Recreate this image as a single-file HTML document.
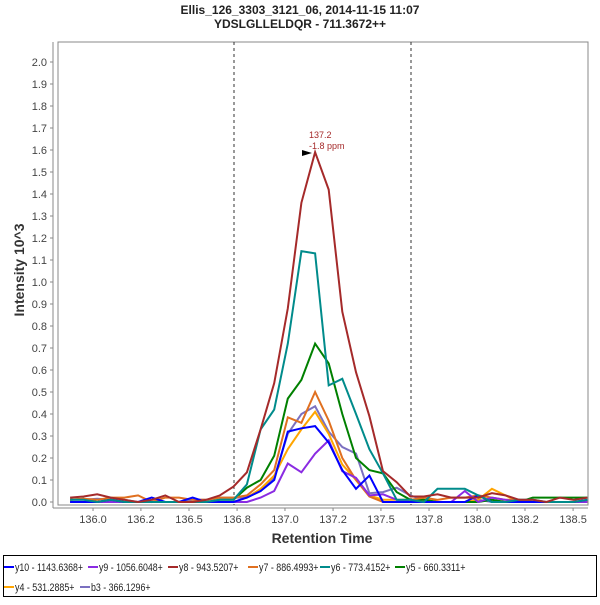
<!DOCTYPE html>
<html><head><meta charset="utf-8"><style>
body{margin:0;background:#fff;font-family:"Liberation Sans",sans-serif}
svg text{font-family:"Liberation Sans",sans-serif}
</style></head><body>
<svg id="chart" width="600" height="600" xmlns="http://www.w3.org/2000/svg">
<rect width="600" height="600" fill="#fff"/>
<text x="300" y="14" text-anchor="middle" font-size="12" font-weight="bold" fill="#222">Ellis_126_3303_3121_06, 2014-11-15 11:07</text>
<text x="300" y="28" text-anchor="middle" font-size="12" font-weight="bold" fill="#222">YDSLGLLELDQR - 711.3672++</text>
<rect x="58" y="42" width="530" height="463" fill="none" stroke="#888" stroke-width="1"/>
<line x1="53" y1="42" x2="53" y2="508" stroke="#888"/>
<line x1="53" y1="508" x2="588" y2="508" stroke="#888"/>
<g id="yticks"></g><g id="xticks"></g>
<line x1="234" y1="42" x2="234" y2="505" stroke="#333" stroke-dasharray="3,3"/>
<line x1="411" y1="42" x2="411" y2="505" stroke="#333" stroke-dasharray="3,3"/>
<g id="series"></g>
<polygon points="302,150 312,153 302,156" fill="#000"/>
<text x="309" y="138" font-size="9" fill="#a52a2a">137.2</text>
<text x="309" y="149" font-size="9" fill="#a52a2a">-1.8 ppm</text>
<text x="24" y="270" font-size="14" font-weight="bold" fill="#333" text-anchor="middle" transform="rotate(-90 24 270)">Intensity 10^3</text>
<text x="322" y="543" font-size="14" font-weight="bold" fill="#333" text-anchor="middle">Retention Time</text>
<rect x="3.5" y="555.5" width="593" height="41" fill="none" stroke="#000"/>
<g id="legend"></g>
</svg>
<script>
const NS='http://www.w3.org/2000/svg';
const yTickVals=[0.0,0.1,0.2,0.3,0.4,0.5,0.6,0.7,0.8,0.9,1.0,1.1,1.2,1.3,1.4,1.5,1.6,1.7,1.8,1.9,2.0];
const xTickVals=[135.985,136.238,136.492,136.746,136.999,137.253,137.506,137.760,138.014,138.267,138.521];
const xTickLabels=['136.0','136.2','136.5','136.8','137.0','137.2','137.5','137.8','138.0','138.2','138.5'];
const seriesNames=['y10 - 1143.6368+','y9 - 1056.6048+','y8 - 943.5207+','y7 - 886.4993+','y6 - 773.4152+','y5 - 660.3311+','y4 - 531.2885+','b3 - 366.1296+'];
const seriesColors=['#0000ff','#8a2be2','#a52a2a','#e07020','#008b8b','#008000','#ffa500','#7b70c0'];
const times=[135.864,135.935,136.007,136.079,136.151,136.223,136.295,136.367,136.439,136.511,136.583,136.655,136.727,136.798,136.870,136.942,137.014,137.086,137.158,137.230,137.302,137.374,137.445,137.517,137.589,137.661,137.733,137.805,137.877,137.949,138.020,138.092,138.164,138.236,138.308,138.380,138.452,138.524,138.596];
const y10=[0.0,0.0,0.0,0.01,0.0,0.0,0.02,0.0,0.0,0.02,0.0,0.0,0.0,0.02,0.05,0.1,0.32,0.335,0.345,0.27,0.145,0.06,0.12,0.0,0.0,0.0,0.0,0.0,0.0,0.0,0.03,0.0,0.0,0.0,0.0,0.0,0.0,0.0,0.01];
const y9=[0.0,0.0,0.0,0.0,0.0,0.0,0.0,0.0,0.0,0.0,0.0,0.0,0.0,0.0,0.02,0.05,0.175,0.135,0.22,0.28,0.14,0.11,0.03,0.035,0.01,0.0,0.0,0.0,0.0,0.05,0.0,0.02,0.01,0.0,0.0,0.0,0.0,0.0,0.0];
const y8=[0.02,0.025,0.035,0.02,0.01,0.0,0.01,0.03,0.0,0.0,0.01,0.03,0.07,0.135,0.33,0.54,0.88,1.36,1.59,1.42,0.865,0.59,0.39,0.14,0.09,0.025,0.025,0.035,0.02,0.02,0.02,0.04,0.03,0.01,0.01,0.0,0.02,0.01,0.02];
const y7=[0.01,0.015,0.01,0.02,0.02,0.03,0.0,0.02,0.02,0.01,0.01,0.02,0.02,0.03,0.08,0.145,0.385,0.36,0.5,0.37,0.2,0.1,0.025,0.0,0.0,0.01,0.02,0.01,0.02,0.02,0.03,0.02,0.01,0.01,0.0,0.0,0.0,0.0,0.0];
const y6=[0.01,0.01,0.0,0.01,0.0,0.0,0.0,0.0,0.0,0.0,0.0,0.01,0.01,0.08,0.33,0.42,0.72,1.14,1.13,0.53,0.56,0.4,0.24,0.13,0.01,0.01,0.0,0.06,0.06,0.06,0.03,0.0,0.0,0.01,0.01,0.0,0.0,0.0,0.01];
const y5=[0.01,0.015,0.0,0.01,0.0,0.0,0.0,0.0,0.0,0.0,0.0,0.01,0.01,0.065,0.1,0.21,0.47,0.555,0.72,0.63,0.4,0.2,0.145,0.13,0.045,0.01,0.01,0.0,0.0,0.0,0.0,0.01,0.0,0.0,0.02,0.02,0.02,0.02,0.02];
const y4=[0.0,0.0,0.0,0.0,0.0,0.0,0.0,0.0,0.0,0.0,0.0,0.0,0.0,0.02,0.06,0.12,0.24,0.33,0.41,0.31,0.17,0.1,0.03,0.01,0.01,0.01,0.01,0.0,0.0,0.0,0.01,0.06,0.03,0.0,0.0,0.0,0.0,0.0,0.0];
const b3=[0.01,0.01,0.015,0.01,0.01,0.0,0.0,0.0,0.0,0.01,0.01,0.02,0.02,0.02,0.05,0.11,0.31,0.4,0.435,0.32,0.25,0.22,0.04,0.045,0.065,0.03,0.01,0.0,0.0,0.0,0.01,0.0,0.0,0.01,0.0,0.0,0.0,0.0,0.0];
const seriesData=[y10,y9,y8,y7,y6,y5,y4,b3];
const seriesKeys=['y10','y9','y8','y7','y6','y5','y4','b3'];
function xS(v){return 58+(v-135.8)*189.3;}
function yS(v){return 502-v*220;}
const yt=document.getElementById('yticks');
yTickVals.forEach(v=>{
  const y=yS(v);
  const l=document.createElementNS(NS,'line');
  l.setAttribute('x1',50);l.setAttribute('x2',53);l.setAttribute('y1',y);l.setAttribute('y2',y);l.setAttribute('stroke','#888');
  
  
  yt.appendChild(l);
  const t=document.createElementNS(NS,'text');
  t.setAttribute('x',47);t.setAttribute('y',y+4);t.setAttribute('text-anchor','end');t.setAttribute('font-size','11');t.setAttribute('fill','#444');
  t.textContent=v.toFixed(1);
  
  
  yt.appendChild(t);
});
const xt=document.getElementById('xticks');
xTickVals.forEach((v,i)=>{
  const x=xS(v);
  const l=document.createElementNS(NS,'line');
  l.setAttribute('x1',x);l.setAttribute('x2',x);l.setAttribute('y1',508);l.setAttribute('y2',511);l.setAttribute('stroke','#888');
  
  
  xt.appendChild(l);
  const t=document.createElementNS(NS,'text');
  t.setAttribute('x',x);t.setAttribute('y',523);t.setAttribute('text-anchor','middle');t.setAttribute('font-size','11');t.setAttribute('fill','#444');
  t.textContent=xTickLabels[i];
  
  
  xt.appendChild(t);
});
const sg=document.getElementById('series');
[7,6,5,3,1,0,4,2].forEach(k=>{
  const p=document.createElementNS(NS,'polyline');
  p.setAttribute('points',seriesData[k].map((v,i)=>xS(times[i]).toFixed(1)+','+yS(v).toFixed(1)).join(' '));
  p.setAttribute('fill','none');p.setAttribute('stroke',seriesColors[k]);p.setAttribute('stroke-width','2');p.setAttribute('stroke-linejoin','miter');
  
  
  sg.appendChild(p);
});
const lg=document.getElementById('legend');
const legX=[4,88,168,248,320,395,4,80];
const legY=[567,567,567,567,567,567,587,587];
seriesNames.forEach((n,i)=>{
  const g=document.createElementNS(NS,'g');
  
  
  const l=document.createElementNS(NS,'line');
  l.setAttribute('x1',legX[i]);l.setAttribute('x2',legX[i]+10);l.setAttribute('y1',legY[i]);l.setAttribute('y2',legY[i]);
  l.setAttribute('stroke',seriesColors[i]);l.setAttribute('stroke-width','2');
  g.appendChild(l);
  const t=document.createElementNS(NS,'text');
  t.setAttribute('x',legX[i]+11);t.setAttribute('y',legY[i]+4);t.setAttribute('font-size','11');t.setAttribute('fill','#222');
  t.setAttribute('textLength',n.length*4.25);
  t.setAttribute('lengthAdjust','spacingAndGlyphs');
  t.textContent=n;
  g.appendChild(t);
  lg.appendChild(g);
});
</script>
</body></html>
